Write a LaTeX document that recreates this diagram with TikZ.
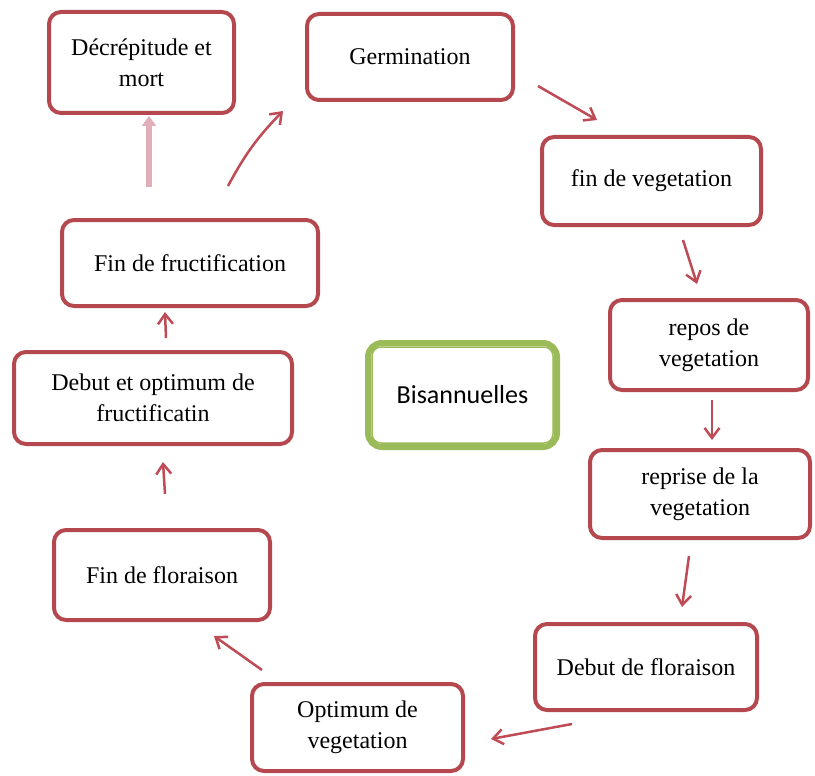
\documentclass[tikz,border=0pt]{standalone}
\usepackage{fontspec}
\setmainfont{Liberation Serif}
\newfontfamily\bisfont{Carlito}
\usetikzlibrary{arrows.meta}
\definecolor{boxred}{RGB}{180,72,78}
\definecolor{arrred}{RGB}{190,75,85}
\definecolor{pinkarr}{RGB}{225,175,185}
\definecolor{olive}{RGB}{155,187,89}
\begin{document}
\begin{tikzpicture}[x=1pt,y=-1pt,
  stage/.style={draw=boxred,line width=4pt,rounded corners=12pt,fill=white,
    align=center,font=\fontsize{24}{31}\selectfont,inner sep=2pt},
  flow/.style={draw=arrred,line width=2.5pt,-{Straight Barb[length=10pt,width=15pt,line width=2.5pt]}},
  pinkflow/.style={draw=pinkarr,line width=6pt,-{Triangle[length=10pt,width=14pt]}}]
\useasboundingbox (0,0) rectangle (815,776);
\node[stage,minimum width=185pt,minimum height=101pt] (dec) at (141.5,62.5) {Décrépitude et\\mort};
\node[stage,minimum width=206pt,minimum height=86pt] (germ) at (410,57) {Germination};
\node[stage,minimum width=219pt,minimum height=88pt] (finveg) at (651.5,181) {fin de vegetation};
\node[stage,minimum width=198pt,minimum height=90pt] (repos) at (709,345) {repos de\\vegetation};
\node[stage,minimum width=220pt,minimum height=88pt] (reprise) at (700,494) {reprise de la\\vegetation};
\node[stage,minimum width=222pt,minimum height=86pt] (debflor) at (646,667) {Debut de floraison};
\node[stage,minimum width=211pt,minimum height=87pt] (optveg) at (357.5,727.5) {Optimum de\\vegetation};
\node[stage,minimum width=216pt,minimum height=90pt] (finflor) at (162,575) {Fin de floraison};
\node[stage,minimum width=278pt,minimum height=92pt] (debopt) at (153,398) {Debut et optimum de\\fructificatin};
\node[stage,minimum width=256pt,minimum height=86pt] (finfruct) at (190,263) {Fin de fructification};
\node[draw=olive,line width=6pt,rounded corners=14pt,fill=white,
  minimum width=189pt,minimum height=104pt,font=\bisfont\fontsize{26}{30}\selectfont] (bis) at (462.5,395) {Bisannuelles};
\draw[olive,line width=1.5pt,rounded corners=9pt]
  ([xshift=7pt,yshift=-7pt]bis.north west) rectangle ([xshift=-7pt,yshift=7pt]bis.south east);
% arrow end points
\coordinate (a1s) at (149,187); \coordinate (a1e) at (149,116);
\coordinate (a2s) at (228,186); \coordinate (a2e) at (283,111);
\coordinate (a3s) at (538,86);  \coordinate (a3e) at (597,120);
\coordinate (a4s) at (683,240); \coordinate (a4e) at (697,284);
\coordinate (a5s) at (712,400); \coordinate (a5e) at (712,440);
\coordinate (a6s) at (689,556); \coordinate (a6e) at (682,607);
\coordinate (a7s) at (572,724); \coordinate (a7e) at (491,739);
\coordinate (a8s) at (262,670); \coordinate (a8e) at (214,636);
\coordinate (a9s) at (165,494); \coordinate (a9e) at (163,462);
\coordinate (a10s) at (166,338); \coordinate (a10e) at (165,312);
\draw[pinkflow] (a1s) -- (a1e);
\draw[flow] (a2s) to[bend left=8] (a2e);
\draw[flow] (a3s) -- (a3e);
\draw[flow] (a4s) -- (a4e);
\draw[flow] (a5s) -- (a5e);
\draw[flow] (a6s) -- (a6e);
\draw[flow] (a7s) -- (a7e);
\draw[flow] (a8s) -- (a8e);
\draw[flow] (a9s) -- (a9e);
\draw[flow] (a10s) -- (a10e);
\end{tikzpicture}
\end{document}
